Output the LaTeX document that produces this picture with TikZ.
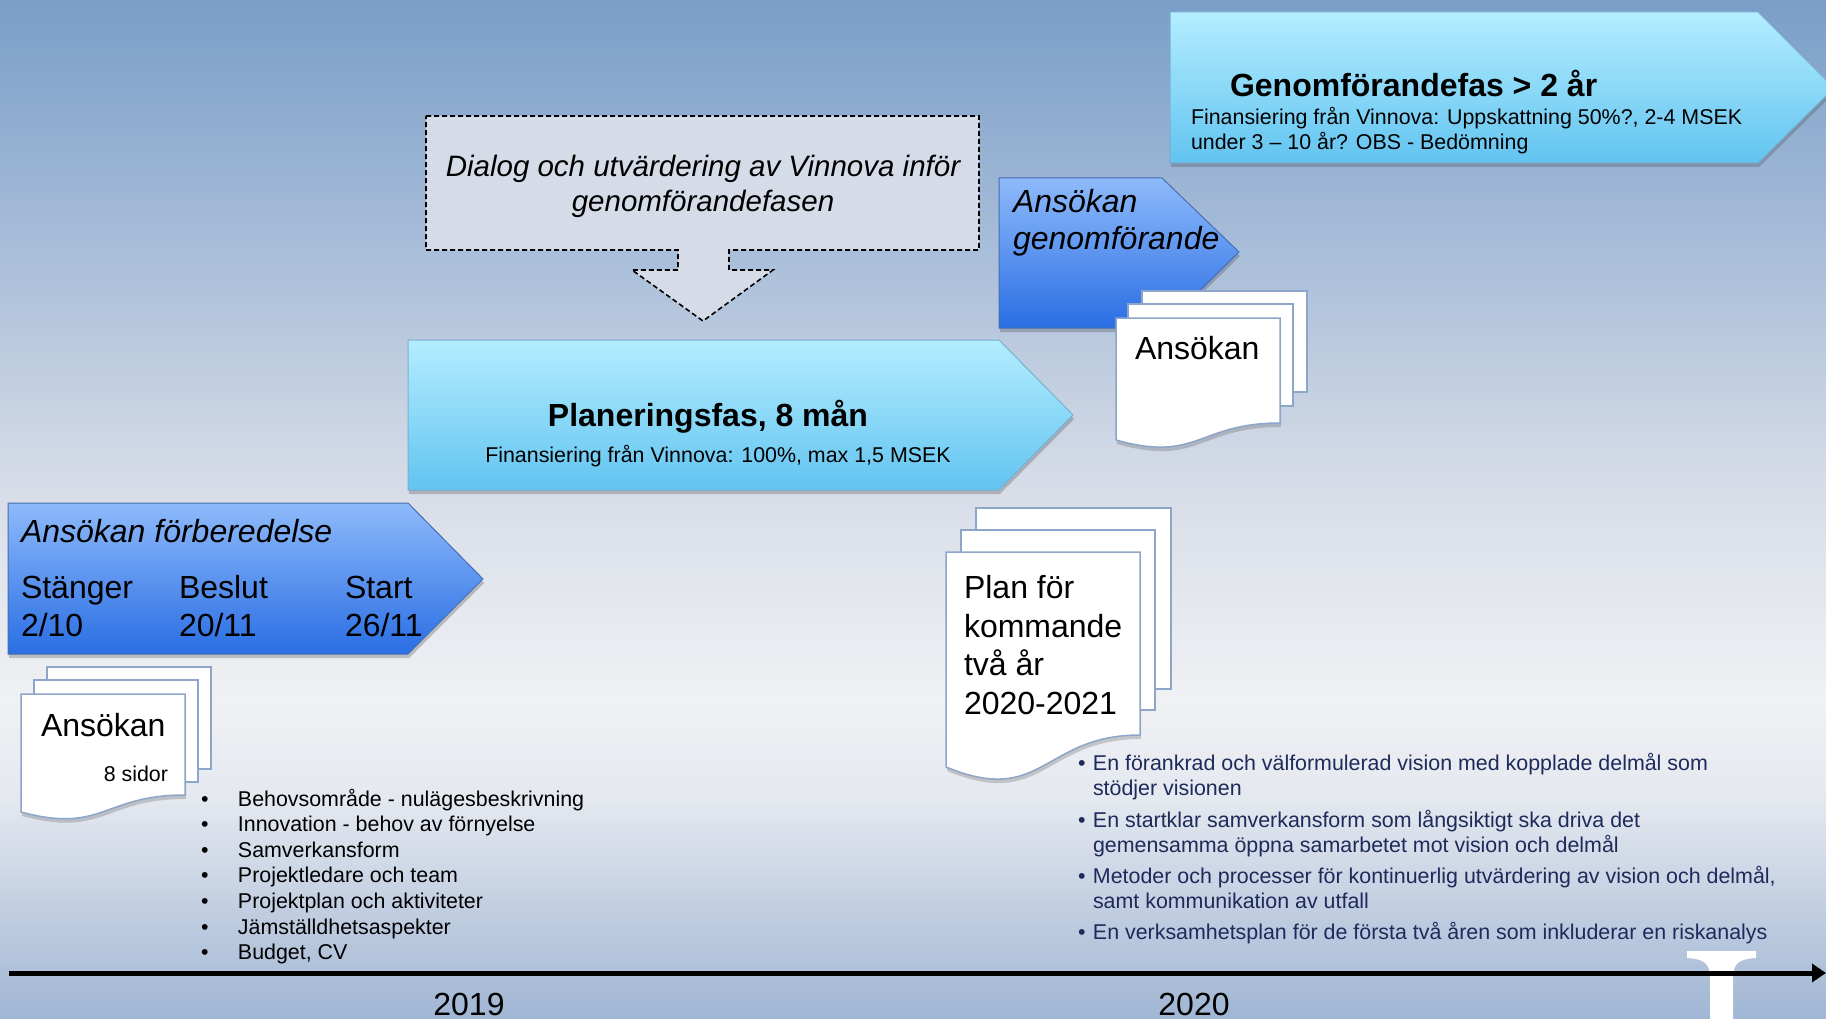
\documentclass[tikz,border=0pt]{standalone}
\usepackage{fontspec}
\setmainfont{Liberation Sans}
\usetikzlibrary{shadows,arrows.meta}
\definecolor{bg0}{RGB}{122,158,200}
\definecolor{bg1}{RGB}{178,196,220}
\definecolor{bg2}{RGB}{214,220,231}
\definecolor{bg3}{RGB}{240,241,244}
\definecolor{bg4}{RGB}{228,232,239}
\definecolor{bg5}{RGB}{196,208,226}
\definecolor{bg6}{RGB}{160,182,212}
\definecolor{dbTop}{RGB}{142,186,250}
\definecolor{dbBot}{RGB}{42,110,228}
\definecolor{dbEdge}{RGB}{70,110,180}
\definecolor{lbTop}{RGB}{180,237,255}
\definecolor{lbBot}{RGB}{98,196,240}
\definecolor{lbEdge}{RGB}{120,175,210}
\definecolor{dashFill}{RGB}{213,220,232}
\definecolor{docEdge}{RGB}{140,165,200}
\definecolor{navy}{RGB}{30,42,90}
\newcommand\fbig{\fontsize{32}{38}\selectfont}
\newcommand\fsm{\fontsize{21.4}{25.6}\selectfont}
\begin{document}
\begin{tikzpicture}[x=1pt,y=-1pt,
  txt/.style={inner sep=0pt,outer sep=0pt},
  darrow/.style={top color=dbTop,bottom color=dbBot,draw=dbEdge,line width=1pt,
     drop shadow={shadow xshift=1pt,shadow yshift=-4pt,opacity=0.3,fill=black!70}},
  larrow/.style={top color=lbTop,bottom color=lbBot,draw=lbEdge,line width=1pt,
     drop shadow={shadow xshift=1pt,shadow yshift=-4pt,opacity=0.3,fill=black!70}},
  docpage/.style={fill=white,draw=docEdge,line width=1.5pt},
  docfrontstyle/.style={fill=white,draw=docEdge,line width=1.5pt,
     drop shadow={shadow xshift=1pt,shadow yshift=-4pt,opacity=0.25,fill=black!70}},
  callout/.style={fill=dashFill,draw=black,line width=1.6pt,dash pattern=on 5pt off 3pt}]
\useasboundingbox (0,0) rectangle (1826,1019);
\clip (0,0) rectangle (1826,1019);
% background
\shade[top color=bg0,bottom color=bg1] (0,0) rectangle (1826,301);
\shade[top color=bg1,bottom color=bg2] (0,300) rectangle (1826,481);
\shade[top color=bg2,bottom color=bg3] (0,480) rectangle (1826,701);
\shade[top color=bg3,bottom color=bg4] (0,700) rectangle (1826,801);
\shade[top color=bg4,bottom color=bg5] (0,800) rectangle (1826,901);
\shade[top color=bg5,bottom color=bg6] (0,900) rectangle (1826,1019);

% Genomforandefas arrow
\path[larrow] (1170,12) -- (1758,12) -- (1834,88) -- (1758,163) -- (1170,163) -- cycle;
\node[txt,anchor=base west] (genomtitle) at (1230,97) {\fbig\bfseries Genomförandefas > 2 år};
\node[txt,anchor=base west] (genomsub1) at (1191,125) {\fsm Finansiering från Vinnova: Uppskattning 50\%?, 2-4 MSEK};
\node[txt,anchor=base west] (genomsub2) at (1191,150) {\fsm under 3 – 10 år? OBS - Bedömning};

% dashed callout
\path[callout] (426,116) -- (979,116) -- (979,250) -- (729,250) -- (729,270) -- (773,270)
  -- (703,321) -- (632,270) -- (678,270) -- (678,250) -- (426,250) -- cycle;
\node[txt,anchor=base] (dial1) at (703,177) {\fontsize{29.5}{35}\selectfont\itshape Dialog och utvärdering av Vinnova inför};
\node[txt,anchor=base] (dial2) at (703,212) {\fontsize{29.5}{35}\selectfont\itshape genomförandefasen};

% Ansokan genomforande arrow
\path[darrow] (999,178) -- (1162,178) -- (1239,252) -- (1162,328) -- (999,328) -- cycle;
\node[txt,anchor=base west] (ag1) at (1013,213) {\fbig\itshape Ansökan};
\node[txt,anchor=base west] (ag2) at (1013,250) {\fbig\itshape genomförande};

% Planeringsfas arrow
\path[larrow] (408,340) -- (999,340) -- (1073,415) -- (999,490) -- (408,490) -- cycle;
\node[txt,anchor=base] (plantitle) at (708,426) {\fbig\bfseries Planeringsfas, 8 mån};
\node[txt,anchor=base] (plansub) at (718,462) {\fsm Finansiering från Vinnova: 100\%, max 1,5 MSEK};

% Ansokan forberedelse arrow
\path[darrow] (8,503) -- (408,503) -- (483,579) -- (408,654) -- (8,654) -- cycle;
\node[txt,anchor=base west] (af) at (21,542) {\fbig\itshape Ansökan förberedelse};
\node[txt,anchor=base west] (st1) at (21,598) {\fbig Stänger};
\node[txt,anchor=base west] (st2) at (21,636) {\fbig 2/10};
\node[txt,anchor=base west] (be1) at (179,598) {\fbig Beslut};
\node[txt,anchor=base west] (be2) at (179,636) {\fbig 20/11};
\node[txt,anchor=base west] (sa1) at (345,598) {\fbig Start};
\node[txt,anchor=base west] (sa2) at (345,636) {\fbig 26/11};

% document stack 3 (upper right)
\path[docpage] (1142,291) rectangle (1307,392);
\path[docpage] (1128,304) rectangle (1293,406);
\path[docfrontstyle] (1116,318) -- (1280,318) -- (1280,423) .. controls (1198,423) and (1198,463) .. (1116,440) -- cycle;
\node[txt,anchor=base west] (doc3t) at (1135,359) {\fbig Ansökan};

% document stack 2 (plan)
\path[docpage] (976,508) rectangle (1171,689);
\path[docpage] (961,530) rectangle (1155,710);
\path[docfrontstyle] (946,552) -- (1140,552) -- (1140,735) .. controls (1043,735) and (1043,807) .. (946,767) -- cycle;
\node[txt,anchor=base west] (doc2a) at (964,598) {\fbig Plan för};
\node[txt,anchor=base west] (doc2b) at (964,637) {\fbig kommande};
\node[txt,anchor=base west] (doc2c) at (964,675) {\fbig två år};
\node[txt,anchor=base west] (doc2d) at (964,714) {\fbig 2020-2021};

% document stack 1 (lower left)
\path[docpage] (47,667) rectangle (211,769);
\path[docpage] (34,680) rectangle (198,782);
\path[docfrontstyle] (21,694) -- (185,694) -- (185,795) .. controls (103,795) and (103,834) .. (21,812) -- cycle;
\node[txt,anchor=base west] (doc1t) at (41,736) {\fbig Ansökan};
\node[txt,anchor=base east] (doc1s) at (168,781) {\fsm 8 sidor};

% left bullets
\foreach \t [count=\i from 0] in {Behovsområde - nulägesbeskrivning,Innovation - behov av förnyelse,Samverkansform,Projektledare och team,Projektplan och aktiviteter,Jämställdhetsaspekter,{Budget, CV}}{
  \node[txt,anchor=base west] (lb\i) at (201,806+25.6*\i) {\fsm\makebox[37pt][l]{•}\t};
}

% right bullets
\begin{scope}[every node/.style={txt,anchor=base west,text=navy}]
\node (rb1) at (1078,770) {\fsm\makebox[15pt][l]{•}En förankrad och välformulerad vision med kopplade delmål som};
\node (rb1b) at (1093,795) {\fsm stödjer visionen};
\node (rb2) at (1078,827) {\fsm\makebox[15pt][l]{•}En startklar samverkansform som långsiktigt ska driva det};
\node (rb2b) at (1093,852) {\fsm gemensamma öppna samarbetet mot vision och delmål};
\node (rb3) at (1078,883) {\fsm\makebox[15pt][l]{•}Metoder och processer för kontinuerlig utvärdering av vision och delmål,};
\node (rb3b) at (1093,908) {\fsm samt kommunikation av utfall};
\node (rb4) at (1078,939) {\fsm\makebox[15pt][l]{•}En verksamhetsplan för de första två åren som inkluderar en riskanalys};
\end{scope}

% white I shape
\fill[white] (1687,951) -- (1756,951) -- (1756,958) .. controls (1738,959) and (1733,964) .. (1733,978)
  -- (1733,1019) -- (1710,1019) -- (1710,978) .. controls (1710,964) and (1705,959) .. (1687,958) -- cycle;

% timeline
\coordinate (tl0) at (9,973);
\coordinate (tl1) at (1826,973);
\draw[line width=5pt,-{Triangle[length=14pt,width=18pt]}] (tl0) -- (tl1);
\node[txt,anchor=base] (y2019) at (469,1015) {\fbig 2019};
\node[txt,anchor=base] (y2020) at (1194,1015) {\fbig 2020};
\end{tikzpicture}
\end{document}
